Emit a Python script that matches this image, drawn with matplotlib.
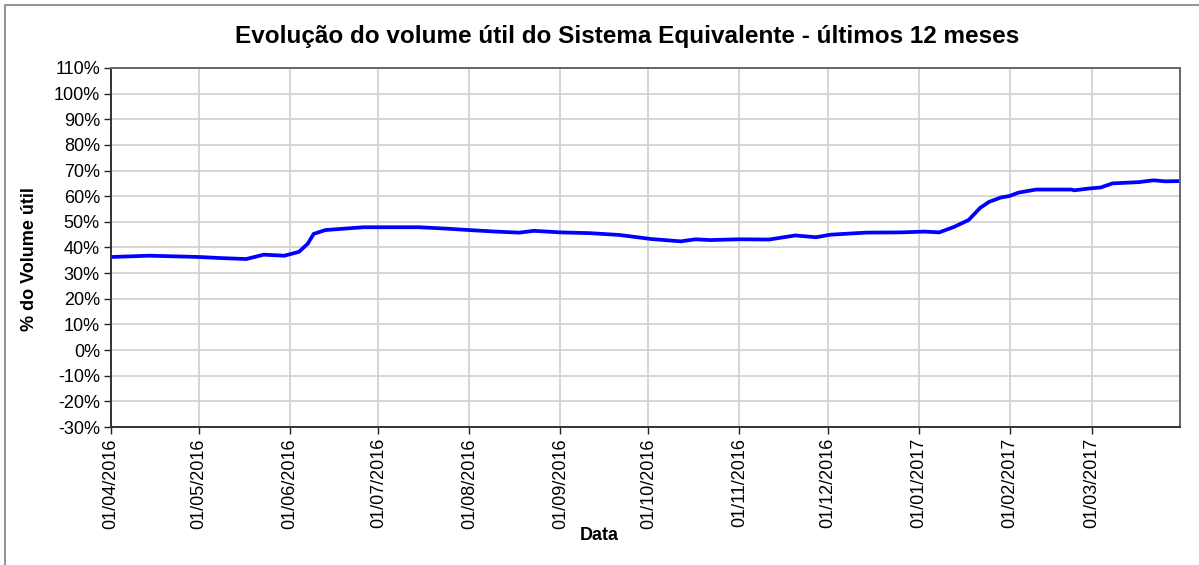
import numpy as np
import pandas as pd
import matplotlib
matplotlib.use("Agg")
import matplotlib.pyplot as plt
import matplotlib.dates as mdates
from matplotlib.patches import Rectangle

# data (day offset from 01/04/2016, % volume)
days = [0, 13, 20, 30, 37, 46, 52, 59, 64, 67, 69, 73, 80, 86, 105, 115, 122,
        131, 139, 144, 153, 163, 173, 184, 194, 199, 204, 214, 224, 233, 240,
        245, 257, 269, 277, 282, 287, 292, 296, 299, 303, 306, 309, 315, 327,
        328, 333, 337, 341, 350, 355, 359, 364]
volume = [36.3, 36.8, 36.6, 36.3, 35.9, 35.5, 37.2, 36.8, 38.3, 41.5, 45.3,
          46.8, 47.4, 47.9, 47.9, 47.3, 46.8, 46.2, 45.8, 46.5, 45.9, 45.6,
          44.9, 43.3, 42.4, 43.2, 42.9, 43.2, 43.1, 44.7, 44.0, 45.0, 45.8,
          45.9, 46.2, 45.9, 48.0, 50.7, 55.5, 57.8, 59.5, 60.1, 61.4, 62.6,
          62.6, 62.3, 63.0, 63.4, 65.0, 65.5, 66.2, 65.8, 65.9]
yticks = list(range(-30, 111, 10))

start = pd.Timestamp("2016-04-01")
dates = [start + pd.Timedelta(days=d) for d in days]

plt.rcParams['font.family'] = ['Liberation Sans', 'DejaVu Sans']

fig = plt.figure(figsize=(11.99, 5.65), dpi=100)
ax = fig.add_axes([111/1199, 1 - 427/565, (1180-111)/1199, (427-68)/565])

ax.plot(dates, volume, color='#0000ff', lw=2.7, solid_joinstyle='round')

ax.set_ylim(-30, 110)
ax.set_yticks(yticks)
ax.set_yticklabels(["{}%".format(t) for t in yticks], fontsize=13)
ax.set_xlim(start, pd.Timestamp("2017-03-31"))
ax.xaxis.set_major_locator(mdates.MonthLocator())
ax.xaxis.set_major_formatter(mdates.DateFormatter("%d/%m/%Y"))
plt.setp(ax.get_xticklabels(), rotation=90, fontsize=13)

ax.grid(True, color='#d0d0d0', lw=1.2)
ax.set_axisbelow(True)
ax.tick_params(direction='out', length=5, width=1, color='#222222', pad=3)
for s in ['left', 'bottom']:
    ax.spines[s].set_color('#333333')
    ax.spines[s].set_linewidth(1.4)
for s in ['top', 'right']:
    ax.spines[s].set_color('#666666')
    ax.spines[s].set_linewidth(1.4)

fig.text(30/1199, 1 - 259/565, "% do Volume útil", fontsize=13,
         fontweight='bold', rotation=90, ha='center', va='center')
fig.text(599/1199, 1 - 536/565, "Data", fontsize=13, fontweight='bold',
         ha='center', va='center')
fig.text(627/1199, 1 - 37/565,
         "Evolução do volume útil do Sistema Equivalente - últimos 12 meses",
         fontsize=17.5, fontweight='bold', ha='center', va='center')

# outer chart frame
fig.patches.append(Rectangle((5/1199, -0.1), 1.2, 1 - 5/565 + 0.1,
                             transform=fig.transFigure, fill=False,
                             edgecolor='#808080', lw=1.2))

fig.savefig("out.png", dpi=100)
